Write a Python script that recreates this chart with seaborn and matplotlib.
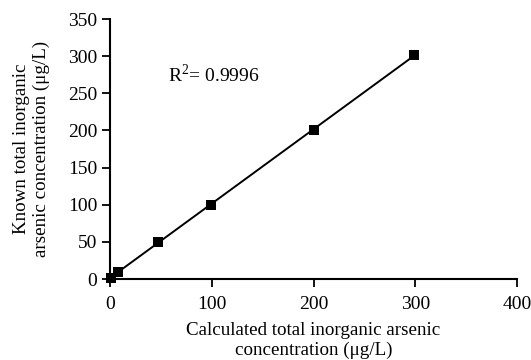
import matplotlib
matplotlib.use("Agg")
import matplotlib.pyplot as plt
import seaborn as sns
import numpy as np
import pandas as pd

calculated = [1, 8, 47, 99, 200, 299]
known = [1, 10, 50, 100, 201, 301]
x_ticks = [0, 100, 200, 300, 400]
y_ticks = [0, 50, 100, 150, 200, 250, 300, 350]
r2_label = "R$^{2}$= 0.9996"

sns.set_theme(style="ticks")
plt.rcParams['font.family'] = ['Liberation Serif', 'DejaVu Serif']
plt.rcParams['mathtext.fontset'] = 'custom'
plt.rcParams['mathtext.rm'] = 'Liberation Serif'

df = pd.DataFrame({"calc": calculated, "known": known})

fig = plt.figure(figsize=(5.31, 3.6), dpi=100)
ax = fig.add_axes([110/531, 1-279/360, 407/531, 260/360])

sns.regplot(data=df, x="calc", y="known", ax=ax, ci=None, marker="s",
            scatter_kws=dict(s=62, color="black", edgecolor="black", linewidths=0,
                             alpha=1, zorder=3, clip_on=False),
            line_kws=dict(color="black", lw=1.4))

ax.set_xlim(0, 400)
ax.set_ylim(0, 350)
ax.set_xticks(x_ticks)
ax.set_yticks(y_ticks)
ax.tick_params(axis="both", labelsize=14, length=6, width=1.3, color="black",
               labelcolor="black", direction="out", pad=3)
ax.tick_params(axis="x", pad=6)
for s in ["left", "bottom"]:
    ax.spines[s].set_linewidth(1.5)
    ax.spines[s].set_color("black")
sns.despine(ax=ax)
ax.set_xlabel("Calculated total inorganic arsenic\nconcentration (μg/L)", fontsize=13.7,
              color="black", labelpad=7, linespacing=1.15)
ax.set_ylabel("Known total inorganic\narsenic concentration (μg/L)", fontsize=13.7,
              color="black", labelpad=13, linespacing=1.2)
ax.text(57, 275, r2_label, fontsize=14, va="center", ha="left", color="black")

fig.savefig("out.png", dpi=100)
